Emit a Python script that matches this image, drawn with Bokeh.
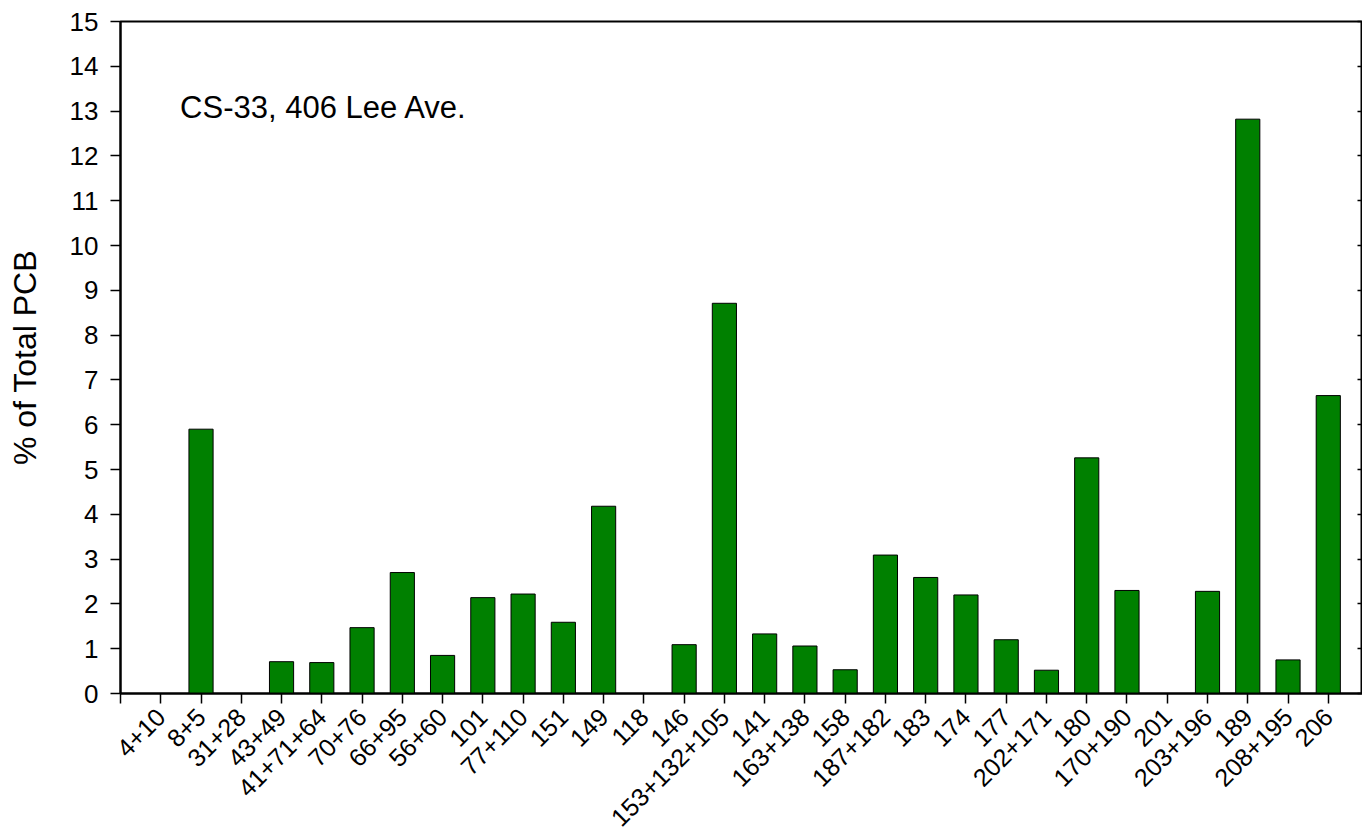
import math
from bokeh.plotting import figure
from bokeh.models import (ColumnDataSource, Range1d, FixedTicker, LinearAxis, Label)
from bokeh.embed import file_html
from bokeh.resources import INLINE

# PCB congeners (co-eluting groups) and their share of total PCB
congeners = ["4+10", "8+5", "31+28", "43+49", "41+71+64", "70+76", "66+95", "56+60",
             "101", "77+110", "151", "149", "118", "146", "153+132+105", "141",
             "163+138", "158", "187+182", "183", "174", "177", "202+171", "180",
             "170+190", "201", "203+196", "189", "208+195", "206"]
percent = [0.0, 5.90, 0.0, 0.71, 0.69, 1.47, 2.70, 0.85,
           2.14, 2.22, 1.59, 4.18, 0.0, 1.09, 8.71, 1.33,
           1.06, 0.53, 3.09, 2.59, 2.20, 1.20, 0.52, 5.26,
           2.30, 0.0, 2.28, 12.82, 0.75, 6.65]
y_ticks = list(range(0, 16))
site_label = "CS-33, 406 Lee Ave."
y_title = "% of Total PCB"

FONT = "Liberation Sans"

positions = list(range(1, len(congeners) + 1))
src = ColumnDataSource(dict(x=positions, top=percent, name=congeners))

p = figure(width=1362, height=837, output_backend="svg", toolbar_location=None,
           x_range=Range1d(0, 30.85), y_range=Range1d(0, 15),
           min_border_left=120, min_border_right=0, min_border_top=21,
           min_border_bottom=144)

p.vbar(x="x", top="top", bottom=0, width=0.6, source=src,
       fill_color="#008000", line_color="black", line_width=1)

p.grid.visible = False
p.background_fill_color = "white"
p.border_fill_color = "white"
p.outline_line_color = "black"
p.outline_line_width = 2

# bottom category axis; the unlabelled tick at the origin is a minor tick
xa = p.xaxis[0]
xa.ticker = FixedTicker(ticks=positions, minor_ticks=[0])
xa.major_label_overrides = {i: n for i, n in zip(positions, congeners)}
xa.major_label_orientation = math.pi / 4
xa.major_label_text_font = FONT
xa.major_label_text_font_size = "25px"
xa.major_label_text_color = "black"
xa.major_label_standoff = 9
xa.major_tick_out = 10
xa.major_tick_in = 0
xa.minor_tick_out = 10
xa.minor_tick_in = 0
xa.minor_tick_line_width = 1.5
xa.axis_line_width = 2
xa.major_tick_line_width = 1.5
xa.axis_line_color = "black"

# left value axis
ya = p.yaxis[0]
ya.ticker = FixedTicker(ticks=y_ticks)
ya.major_label_text_font = FONT
ya.major_label_text_font_size = "26px"
ya.major_label_text_color = "black"
ya.major_label_standoff = 12
ya.major_tick_out = 10
ya.major_tick_in = 0
ya.minor_tick_out = 0
ya.minor_tick_in = 0
ya.axis_line_width = 2
ya.major_tick_line_width = 1.5
ya.axis_label = y_title
ya.axis_label_text_font = FONT
ya.axis_label_text_font_size = "32px"
ya.axis_label_text_font_style = "normal"
ya.axis_label_text_color = "black"
ya.axis_label_standoff = 24

# right axis: short inward ticks, no labels (drawn as minor ticks)
ra = LinearAxis(ticker=FixedTicker(ticks=[], minor_ticks=y_ticks))
ra.major_tick_in = 0
ra.major_tick_out = 0
ra.minor_tick_in = 5
ra.minor_tick_out = 0
ra.minor_tick_line_width = 1.5
ra.minor_tick_line_color = "black"
ra.axis_line_width = 2
p.add_layout(ra, "right")

p.add_layout(Label(x=1.48, y=13.08, text=site_label, text_font=FONT,
                   text_font_size="31px", text_color="black",
                   text_baseline="alphabetic", text_align="left"))

open("out.html", "w").write(file_html(p, INLINE))
